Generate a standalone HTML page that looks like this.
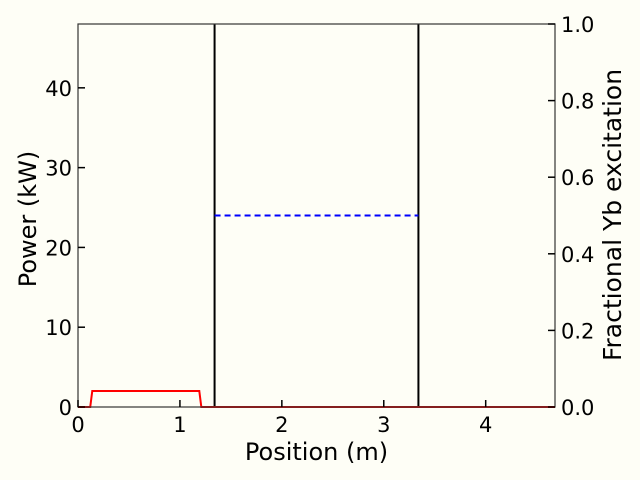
<!DOCTYPE html>
<html><head><meta charset="utf-8"><style>
body{margin:0;background:#fefef6;}
svg{display:block;font-family:"DejaVu Sans","Liberation Sans",sans-serif;}
</style></head><body>
<svg id="chart" width="640" height="480">
<rect width="640" height="480" fill="#fefef6"/>
<g id="marks"></g>
<g id="axes"></g>
</svg>
<script>
const xTicks=[0,1,2,3,4];
const yTicks=[0,10,20,30,40];
const y2Ticks=[0.0,0.2,0.4,0.6,0.8,1.0];
const y2Labels=["0.0","0.2","0.4","0.6","0.8","1.0"];
const redX=[0,0.12,0.14,1.19,1.21,4.68];
const redY=[0,0,2,2,0,0];
const blueX=[1.34,3.34];
const blueY=[0.5,0.5];
const vlines=[1.34,3.34];
const L=78,R=555,T=24,B=407,XMAX=4.68,YMAX=48;
const sx=v=>L+v/XMAX*(R-L);
const sy=v=>B-v/YMAX*(B-T);
const sy2=v=>B-v*(B-T);
const NS="http://www.w3.org/2000/svg";
const marks=document.getElementById('marks'),axes=document.getElementById('axes');
function mk(p,tag,at,txt){const e=document.createElementNS(NS,tag);for(const k in at)e.setAttribute(k,at[k]);if(txt!==undefined)e.textContent=txt;p.appendChild(e);return e;}
vlines.forEach(v=>{
const e=mk(marks,'line',{x1:sx(v),x2:sx(v),y1:T,y2:B,stroke:'#000','stroke-width':2});


});
let rp=redX.map((x,i)=>sx(x)+','+sy(redY[i])).join(' ');
const red=mk(marks,'polyline',{points:rp,fill:'none',stroke:'#f00','stroke-width':2});


let bp=blueX.map((x,i)=>sx(x)+','+sy2(blueY[i])).join(' ');
const blue=mk(marks,'polyline',{points:bp,fill:'none',stroke:'#00f','stroke-width':2,'stroke-dasharray':'6,4'});


const fr=mk(axes,'rect',{x:L,y:T,width:R-L,height:B-T,fill:'none',stroke:'#333','stroke-width':1.2});


xTicks.forEach(v=>{
mk(axes,'line',{x1:sx(v),x2:sx(v),y1:B,y2:B-7,stroke:'#000','stroke-width':1.5});
const t=mk(axes,'text',{x:sx(v),y:B+25,'font-size':21,'text-anchor':'middle'},String(v));


});
yTicks.forEach(v=>{
mk(axes,'line',{x1:L,x2:L+7,y1:sy(v),y2:sy(v),stroke:'#000','stroke-width':1.5});
const t=mk(axes,'text',{x:L-6,y:sy(v)+8,'font-size':21,'text-anchor':'end'},String(v));


});
y2Ticks.forEach((v,i)=>{
mk(axes,'line',{x1:R,x2:R-7,y1:sy2(v),y2:sy2(v),stroke:'#000','stroke-width':1.5});
const t=mk(axes,'text',{x:R+6,y:sy2(v)+8,'font-size':21,'text-anchor':'start'},y2Labels[i]);


});
const xt=mk(axes,'text',{x:(L+R)/2,y:460,'font-size':24,'text-anchor':'middle'},'Position (m)');


const yt=mk(axes,'text',{x:0,y:0,'font-size':24,'text-anchor':'middle',transform:`translate(36,219) rotate(-90)`},'Power (kW)');


const y2t=mk(axes,'text',{x:0,y:0,'font-size':25,'text-anchor':'middle',transform:`translate(621,215) rotate(-90)`},'Fractional Yb excitation');


</script>
</body></html>
